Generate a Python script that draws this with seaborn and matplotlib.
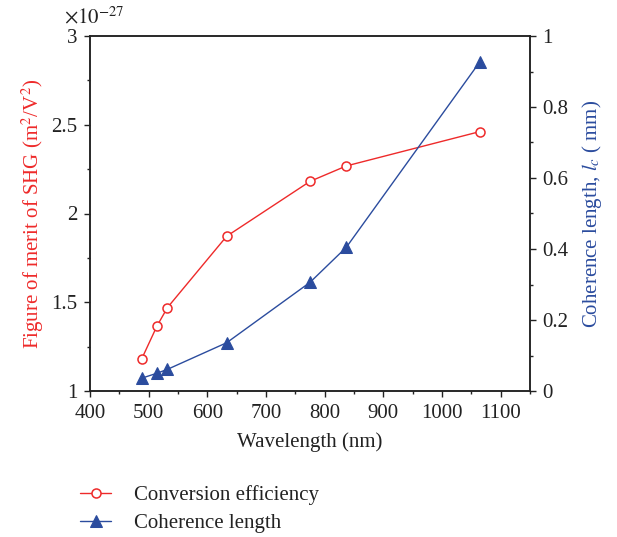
import matplotlib
matplotlib.use("Agg")
import matplotlib.pyplot as plt
from matplotlib.ticker import MultipleLocator, FuncFormatter
import pandas as pd
import seaborn as sns

# Pump wavelengths (nm)
wavelength = [488, 514, 532, 633, 775, 837, 1064]
# Figure of merit of SHG (m^2/V^2)
figure_of_merit = [1.18e-27, 1.365e-27, 1.47e-27, 1.872e-27, 2.181e-27, 2.268e-27, 2.461e-27]
# Coherence length (mm)
coherence_length = [0.036, 0.050, 0.061, 0.136, 0.306, 0.405, 0.926]

scale = 1e-27
red = "#ee2a2a"
blue = "#2b4c9e"
ink = "#222222"
fs = 15

sns.set_style("ticks")
plt.rcParams["font.family"] = ["Liberation Serif", "DejaVu Serif"]
plt.rcParams["mathtext.fontset"] = "stix"

df = pd.DataFrame({"wavelength": wavelength,
                   "fom": figure_of_merit,
                   "lc": coherence_length})

fig = plt.figure(figsize=(6.17, 5.37), dpi=100)
ax = fig.add_axes([90 / 617, 1 - 391 / 537, 440 / 617, 355 / 537])
ax2 = ax.twinx()

sns.lineplot(data=df, x="wavelength", y="fom", ax=ax, color=red, lw=1.0,
             marker="o", markersize=6.5, markerfacecolor="white",
             markeredgecolor=red, markeredgewidth=1.1,
             label="Conversion efficiency", legend=False)
sns.lineplot(data=df, x="wavelength", y="lc", ax=ax2, color=blue, lw=1.0,
             marker="^", markersize=8, markerfacecolor=blue,
             markeredgecolor=blue, label="Coherence length", legend=False)

ax.set_xlim(400, 1150)
ax.set_ylim(1 * scale, 3 * scale)
ax2.set_ylim(0, 1)

ax.xaxis.set_major_locator(MultipleLocator(100))
ax.xaxis.set_minor_locator(MultipleLocator(50))
ax.yaxis.set_major_locator(MultipleLocator(0.5 * scale))
ax.yaxis.set_minor_locator(MultipleLocator(0.25 * scale))
ax2.yaxis.set_major_locator(MultipleLocator(0.2))
ax2.yaxis.set_minor_locator(MultipleLocator(0.1))

ax.yaxis.set_major_formatter(FuncFormatter(lambda v, p: f"{round(v / scale, 3):g}"))
ax2.yaxis.set_major_formatter(FuncFormatter(lambda v, p: f"{round(v, 3):g}"))

for a in (ax, ax2):
    a.tick_params(which="major", direction="out", length=4, width=1,
                  labelsize=fs, colors=ink, pad=5)
    a.tick_params(which="minor", direction="out", length=2.5, width=1,
                  colors=ink)
    for s in a.spines.values():
        s.set_linewidth(1.1)
        s.set_color(ink)
        s.set_visible(True)

# axis multiplier for the left scale
fig.text(64 / 617, 1 - 18 / 537, r"$\times10^{-27}$", fontsize=fs,
         color=ink, ha="left", va="center")

ax.set_xlabel("Wavelength (nm)", fontsize=fs, color=ink, labelpad=7)
ax.set_ylabel("Figure of merit of SHG (m$^2$/V$^2$)", fontsize=fs,
              color=red, labelpad=4)
ax2.set_ylabel("Coherence length, $l_c$ ( mm)", fontsize=fs, color=blue,
               labelpad=8)

h1, l1 = ax.get_legend_handles_labels()
h2, l2 = ax2.get_legend_handles_labels()
fig.legend(h1 + h2, l1 + l2, loc="upper left",
           bbox_to_anchor=(80 / 617, 1 - 485 / 537), frameon=False,
           borderpad=0, borderaxespad=0,
           fontsize=fs, handlelength=1.5, labelspacing=0.42,
           handletextpad=1.1, labelcolor=ink)

fig.savefig("out.png", dpi=100)
